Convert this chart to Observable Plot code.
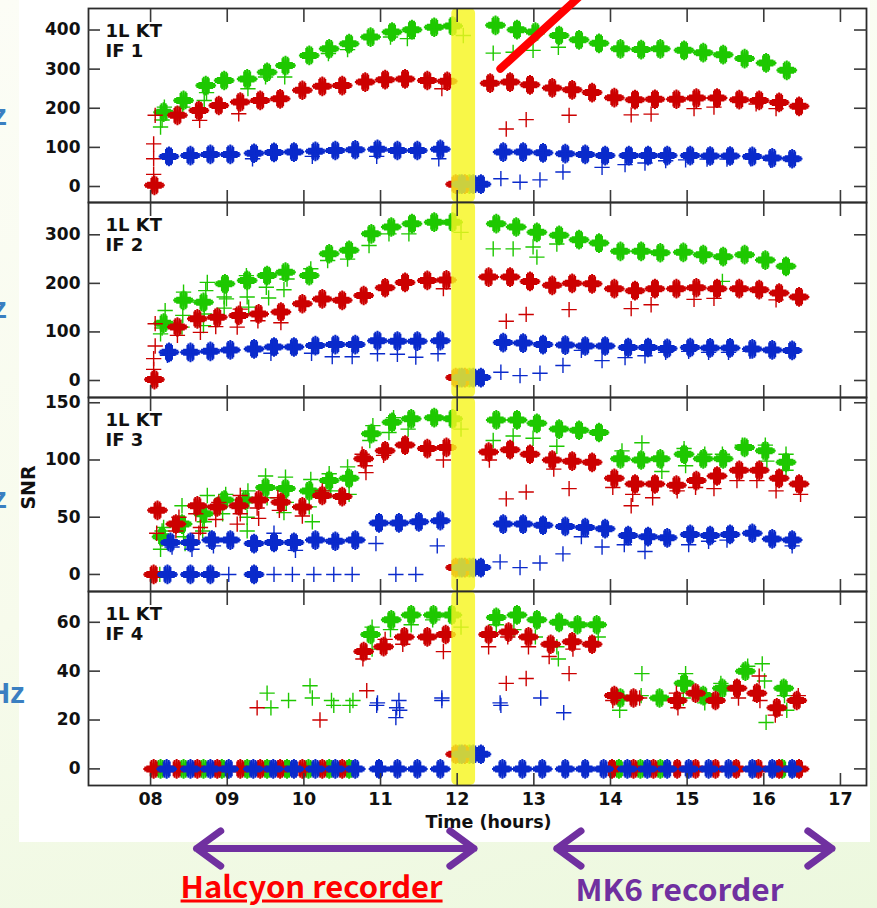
<!DOCTYPE html>
<html><head><meta charset="utf-8">
<script src="https://cdn.jsdelivr.net/npm/d3@7"></script>
<script src="https://cdn.jsdelivr.net/npm/@observablehq/plot@0.6"></script>
<style>
body{margin:0;}
#root{position:relative;width:877px;height:908px;overflow:hidden;background:linear-gradient(165deg,#fcfdf6 0%,#f7fbec 55%,#ecf8de 100%);}
#white{position:absolute;left:19px;top:0;width:851px;height:842px;background:#fff;}
.pan{position:absolute;left:0;}
.side{position:absolute;color:#3a7fc1;font:bold 30px "Liberation Sans",sans-serif;line-height:30px;white-space:nowrap;}
</style></head><body>
<div id="root"><div id="white"></div></div>
<script>
// ---------- shared axis data ----------
const xTicks = [8, 9, 10, 11, 12, 13, 14, 15, 16, 17];
const xDomain = [7.19, 17.34];
const bandRange = [[11.93, 12.24]];
const colGreen = "#1ec800", colRed = "#cc0000", colBlue = "#0a2acb";

// ---------- panel 1 : IF 1 ----------
const p1Ticks = [0, 100, 200, 300, 400];
const p1Domain = [-40.9, 455];
const p1GreenC = [[8.17,190],[8.43,220],[8.72,258],[8.96,271],[9.26,275],[9.52,292],[9.76,309],[10.07,335],[10.33,352],[10.59,365],[10.87,382],[11.15,395],[11.41,401],[11.70,407],[11.94,410],[12.50,412],[12.78,401],[13.02,395],[13.33,386],[13.59,375],[13.85,366],[14.13,352],[14.40,350],[14.65,352],[14.96,348],[15.21,342],[15.47,337],[15.75,327],[16.03,316],[16.30,297],[12.03,6],[12.16,6]];
const p1GreenS = [[8.13,152],[8.15,170],[8.18,203],[8.42,203],[8.70,220],[8.73,240],[9.27,250],[9.50,280],[9.75,280],[10.32,340],[10.57,350],[11.13,382],[11.35,378],[12.08,386],[12.47,341],[12.73,343],[12.99,348],[13.32,356]];
const p1RedC = [[8.05,3],[8.35,182],[8.63,194],[8.89,207],[9.17,216],[9.43,220],[9.69,224],[9.98,246],[10.24,256],[10.50,258],[10.80,267],[11.06,273],[11.32,275],[11.61,271],[11.87,269],[12.43,264],[12.69,267],[12.95,260],[13.24,252],[13.50,247],[13.76,240],[14.05,227],[14.32,222],[14.58,223],[14.86,223],[15.12,226],[15.39,226],[15.68,222],[15.94,220],[16.20,215],[16.46,205],[11.98,6],[12.10,6]];
const p1RedS = [[8.06,182],[8.04,109],[8.04,71],[8.04,31],[8.64,169],[9.15,186],[11.80,250],[12.64,147],[12.90,171],[13.46,182],[14.27,183],[14.53,185],[15.09,199],[15.35,203],[15.90,211],[16.16,199]];
const p1BlueC = [[8.24,77],[8.52,79],[8.78,82],[9.04,82],[9.35,85],[9.61,87],[9.87,88],[10.15,90],[10.41,92],[10.67,94],[10.96,95],[11.22,92],[11.48,92],[11.78,95],[12.60,88],[12.86,88],[13.12,86],[13.41,84],[13.67,82],[13.93,79],[14.24,79],[14.49,79],[14.74,79],[15.04,79],[15.30,78],[15.56,78],[15.85,77],[16.11,73],[16.37,71],[12.06,6],[12.21,6],[12.31,6]];
const p1BlueS = [[9.33,71],[10.11,77],[10.95,77],[11.76,71],[12.57,20],[12.82,11],[13.08,17],[13.38,37],[13.89,49],[14.19,56],[14.45,60],[14.72,66],[14.98,68],[15.26,70],[15.52,70],[15.83,71],[16.09,67]];
const p1Pointer = [[12.563,301],[13.62,490]];

// ---------- panel 2 : IF 2 ----------
const p2Ticks = [0, 100, 200, 300];
const p2Domain = [-35, 366.5];
const p2GreenC = [[8.17,118],[8.43,165],[8.69,161],[8.97,199],[9.26,206],[9.52,216],[9.76,223],[10.07,216],[10.33,261],[10.59,268],[10.88,302],[11.14,316],[11.41,323],[11.70,326],[11.94,326],[12.51,323],[12.77,316],[13.04,305],[13.33,299],[13.59,290],[13.85,283],[14.13,266],[14.40,266],[14.65,263],[14.95,264],[15.21,259],[15.47,255],[15.75,259],[16.02,248],[16.29,235],[12.03,6],[12.16,6]];
const p2GreenS = [[8.13,96],[8.15,108],[8.19,144],[8.42,134],[8.41,110],[8.43,182],[8.72,185],[8.74,202],[8.70,137],[8.69,113],[8.96,172],[8.99,168],[8.96,149],[9.26,172],[9.28,151],[9.25,216],[9.51,192],[9.54,170],[9.74,187],[9.78,209],[10.09,230],[10.31,247],[10.57,250],[10.85,278],[11.11,302],[11.37,302],[12.05,305],[12.47,271],[12.73,271],[12.99,275],[13.04,254],[13.30,281],[15.46,204]];
const p2RedC = [[8.05,2],[8.35,110],[8.61,127],[8.87,130],[9.15,134],[9.41,137],[9.70,141],[9.98,158],[10.24,168],[10.50,165],[10.78,175],[11.06,191],[11.32,202],[11.61,206],[11.86,207],[12.41,213],[12.69,213],[12.95,204],[13.24,196],[13.50,200],[13.76,199],[14.05,189],[14.32,185],[14.58,189],[14.86,189],[15.12,191],[15.39,189],[15.68,189],[15.94,187],[16.20,180],[16.46,172],[11.98,6],[12.10,6]];
const p2RedS = [[8.06,117],[8.06,71],[8.04,45],[8.04,23],[8.35,93],[8.65,99],[8.85,111],[9.13,110],[9.17,147],[9.40,123],[9.70,119],[11.82,189],[12.64,122],[12.90,136],[13.46,146],[14.27,148],[14.53,156],[15.09,167],[15.35,169],[16.16,166]];
const p2BlueC = [[8.24,58],[8.52,58],[8.78,60],[9.04,63],[9.35,65],[9.61,69],[9.87,69],[10.15,72],[10.41,74],[10.67,74],[10.96,82],[11.22,81],[11.48,81],[11.78,82],[12.60,78],[12.86,77],[13.12,74],[13.41,73],[13.67,71],[13.93,71],[14.23,68],[14.49,68],[14.74,66],[15.04,68],[15.30,67],[15.56,67],[15.85,65],[16.11,63],[16.37,62],[12.06,6],[12.21,6],[12.31,6]];
const p2BlueS = [[8.22,52],[9.57,56],[10.10,56],[10.37,49],[10.63,49],[10.96,55],[11.22,54],[11.46,48],[11.75,55],[12.57,17],[12.82,10],[13.08,15],[13.38,31],[13.89,41],[14.19,47],[14.45,51],[13.62,62],[14.72,58],[15.02,60],[15.28,58],[15.54,58],[15.82,60]];

// ---------- panel 3 : IF 3 ----------
const p3Ticks = [0, 50, 100, 150];
const p3Domain = [-14.9, 154.6];
const p3GreenC = [[8.15,33],[8.41,44],[8.69,53],[8.96,65],[9.24,65],[9.50,76],[9.76,75],[10.07,73],[10.33,82],[10.59,84],[10.88,123],[11.15,133],[11.40,136],[11.70,137],[11.94,136],[12.51,135],[12.78,135],[13.04,132],[13.33,127],[13.59,126],[13.85,124],[14.13,101],[14.40,100],[14.65,101],[14.96,105],[15.21,101],[15.47,101],[15.75,111],[16.02,108],[16.29,98],[12.03,6],[12.16,6]];
const p3GreenS = [[8.12,0],[8.15,38],[8.13,22],[8.17,41],[8.41,60],[8.43,33],[8.45,27],[8.74,69],[8.70,46],[8.68,38],[8.98,70],[8.94,53],[9.27,73],[9.26,50],[9.26,38],[9.50,86],[9.52,67],[9.76,85],[9.77,63],[9.74,54],[10.09,83],[10.07,59],[10.11,46],[10.33,88],[10.35,73],[10.57,94],[10.59,70],[10.86,117],[10.90,130],[11.17,137],[11.11,124],[11.36,127],[12.05,127],[12.47,117],[12.73,121],[12.99,119],[13.30,112],[14.15,108],[14.41,115],[14.67,90],[14.98,95],[14.96,110],[15.23,105],[15.46,105],[15.72,113],[16.04,99],[16.29,105],[16.29,91],[16.02,113]];
const p3RedC = [[8.04,0],[8.09,56],[8.33,44],[8.61,60],[8.87,59],[9.15,60],[9.41,65],[9.70,63],[9.98,59],[10.24,69],[10.50,68],[10.78,101],[11.06,108],[11.32,113],[11.61,110],[11.86,111],[12.41,107],[12.69,109],[12.95,105],[13.24,100],[13.50,99],[13.76,98],[14.05,84],[14.32,79],[14.58,79],[14.86,78],[15.12,82],[15.39,86],[15.68,91],[15.94,91],[16.20,84],[16.46,79],[11.98,6],[12.10,6]];
const p3RedS = [[8.08,36],[8.33,38],[8.37,50],[8.59,53],[8.65,41],[8.63,36],[8.85,48],[8.89,63],[9.13,44],[9.17,53],[9.17,69],[9.39,58],[9.41,49],[9.68,56],[9.66,67],[9.98,51],[10.24,73],[10.80,95],[10.81,89],[10.76,105],[11.04,104],[11.82,100],[12.42,100],[12.64,66],[12.90,72],[13.26,92],[13.46,75],[14.03,76],[14.29,70],[14.27,60],[14.55,67],[14.87,73],[15.11,76],[15.35,75],[15.65,82],[15.91,82],[16.16,73],[16.48,70]];
const p3BlueC = [[8.22,0],[8.52,0],[8.78,0],[9.35,0],[8.26,28],[8.52,28],[8.80,30],[9.04,30],[9.35,27],[9.61,28],[9.87,28],[10.15,30],[10.41,29],[10.67,30],[10.98,45],[11.24,45],[11.50,46],[11.78,47],[12.60,44],[12.86,44],[13.12,43],[13.41,42],[13.67,41],[13.93,40],[14.23,34],[14.49,33],[14.74,32],[15.04,35],[15.30,34],[15.56,35],[15.85,36],[16.11,31],[16.37,30],[12.06,6],[12.21,6],[12.31,6]];
const p3BlueS = [[9.02,0],[9.61,0],[9.85,0],[10.13,0],[10.39,0],[10.63,0],[11.20,0],[11.46,0],[8.28,24],[8.54,22],[8.82,25],[9.61,36],[9.89,21],[10.94,27],[11.74,25],[12.56,11],[12.82,6],[13.08,10],[13.38,18],[13.89,24],[14.18,26],[14.45,20],[13.62,33],[15.02,26],[15.28,29],[15.52,30],[16.37,25]];

// ---------- panel 4 : IF 4 ----------
const p4Ticks = [0, 20, 40, 60];
const p4Domain = [-6.8, 72.6];
const p4GreenC = [[8.13,0],[8.43,0],[8.69,0],[8.93,0],[9.26,0],[9.52,0],[9.78,0],[10.06,0],[10.33,0],[10.59,0],[14.11,0],[14.39,0],[14.65,0],[16.24,0],[10.87,55],[11.14,61],[11.40,63],[11.69,63],[11.93,63],[12.51,62],[12.78,63],[13.04,61],[13.33,60],[13.57,59],[13.82,59],[14.13,29],[14.64,29],[14.96,35],[15.21,30],[15.46,33],[15.76,40],[16.26,33],[12.03,6],[12.16,6]];
const p4GreenS = [[9.52,31],[9.57,25],[9.80,28],[10.08,34],[10.11,29],[10.36,28],[10.39,26],[10.60,26],[10.64,28],[10.89,49],[10.89,58],[11.13,57],[11.40,59],[11.68,61],[12.05,58],[12.51,59],[12.74,57],[13.02,54],[13.30,50],[13.32,45],[13.84,54],[14.12,24],[14.41,39],[14.40,30],[14.98,39],[14.95,29],[15.23,27],[15.44,35],[15.79,42],[15.98,43],[16.01,36],[16.03,19],[16.27,30],[16.30,24]];
const p4RedC = [[8.04,0],[8.34,0],[8.61,0],[8.87,0],[9.17,0],[9.43,0],[9.69,0],[9.98,0],[10.24,0],[10.50,0],[14.02,0],[14.30,0],[14.56,0],[14.87,0],[15.11,0],[15.37,0],[15.64,0],[15.93,0],[16.20,0],[16.46,0],[10.78,48],[11.04,50],[11.31,54],[11.61,54],[11.85,55],[12.41,55],[12.67,56],[12.93,54],[13.22,51],[13.50,52],[13.76,51],[14.05,30],[14.30,29],[14.87,28],[15.11,31],[15.37,28],[15.65,33],[15.91,31],[16.17,25],[16.43,28],[11.98,6],[12.10,6]];
const p4RedS = [[9.39,25],[10.21,20],[10.82,32],[10.77,45],[11.06,53],[11.29,51],[11.82,48],[12.41,50],[12.66,54],[12.93,50],[13.20,46],[13.51,49],[12.64,35],[12.90,37],[13.46,39],[14.03,28],[14.38,29],[14.86,31],[14.88,25],[15.67,29],[15.94,38],[15.95,28],[16.15,22],[16.20,25],[16.45,30]];
const p4BlueC = [[8.21,0],[8.52,0],[8.78,0],[9.02,0],[9.34,0],[9.60,0],[9.87,0],[10.15,0],[10.41,0],[10.67,0],[10.98,0],[11.22,0],[11.48,0],[11.78,0],[12.59,0],[12.85,0],[13.11,0],[13.41,0],[13.67,0],[13.91,0],[14.22,0],[14.48,0],[14.74,0],[15.02,0],[15.28,0],[15.54,0],[15.85,0],[16.11,0],[16.37,0],[12.06,6],[12.21,6],[12.31,6]];
const p4BlueS = [[10.95,26],[10.96,27],[11.21,25],[11.20,21],[11.24,28],[11.25,24],[11.80,28],[11.80,29],[12.56,27],[12.57,26],[13.09,29],[13.39,23]];

// ---------- annotations ----------
const recorderSpans = [[8.60, 12.22], [13.30, 16.89]];
const recorderNames = ["Halcyon recorder", "MK6 recorder"];
const recorderCenters = [10.10, 14.90];
const recorderRows = [45.4, 48.4];
const recorderColors = ["#ff0000", "#7030a0"];
const arrowRow = 6;
const sideLabels = ["z", "z", "z", "Hz"];

// ---------- rendering ----------
const clusterOffsets = [[0,0],[-2,-1.5],[2,-1.5],[-2,1.5],[2,1.5],[-3,0],[3,0],[0,-2.5],[0,2.5]];
const FONT = "DejaVu Sans, sans-serif";
const root = document.getElementById("root");

function rows(arr, c) { return arr.map(([t, v]) => ({t, v, c})); }

function panel({top, height, mt, mb, domain, ticks, label, series, bottom, snr = false}) {
  const marks = [];
  for (const [C, S, color] of series) {
    marks.push(Plot.dot(rows(S, color), {x: "t", y: "v", symbol: "plus", r: 5, stroke: "c", strokeWidth: 1.4}));
    for (const [dx, dy] of clusterOffsets)
      marks.push(Plot.dot(rows(C, color), {x: "t", y: "v", symbol: "plus", r: 4.8, stroke: "c", strokeWidth: 2, dx, dy}));
  }
  marks.push(Plot.rect(bandRange, {x1: d => d[0], x2: d => d[1], fill: "#f7f520", fillOpacity: 0.82, rx: 5}));
  marks.push(Plot.frame({stroke: "#2b2b2b", strokeWidth: 1.8}));
  marks.push(Plot.axisY({ticks, anchor: "left", tickSize: -12, tickPadding: 20, stroke: "#3a3a3a", strokeWidth: 1.6, fill: "#111", fontSize: 17, fontWeight: "bold", label: null}));
  marks.push(Plot.axisY({ticks, anchor: "right", tickSize: -13, stroke: "#3a3a3a", strokeWidth: 1.6, fill: "none", label: null}));
  marks.push(Plot.axisX({ticks: xTicks, anchor: "top", tickSize: -13, stroke: "#3a3a3a", strokeWidth: 1.6, fill: "none", label: null}));
  if (bottom) {
    marks.push(Plot.axisX({ticks: xTicks, anchor: "bottom", tickSize: -12, tickPadding: 19, stroke: "#3a3a3a", strokeWidth: 1.6, fill: "#111", fontSize: 17.5, fontWeight: "bold", tickFormat: d => String(d).padStart(2, "0"), label: null}));
    marks.push(Plot.text(["Time (hours)"], {text: d => d, frameAnchor: "bottom", dx: 11, dy: 37, lineAnchor: "middle", fontSize: 17.5, fontWeight: "bold", fill: "#111"}));
  } else {
    marks.push(Plot.axisX({ticks: xTicks, anchor: "bottom", tickSize: -12, stroke: "#3a3a3a", strokeWidth: 1.6, fill: "none", label: null}));
  }
  marks.push(Plot.text([label], {text: d => d, frameAnchor: "top-left", dx: 17, dy: 14, lineAnchor: "top", textAnchor: "start", fontSize: 18, fontWeight: "bold", lineHeight: 1.11, fill: "#111"}));
  if (snr) marks.push(Plot.text(["SNR"], {text: d => d, frameAnchor: "left", dx: -60, dy: -7, rotate: -90, textAnchor: "middle", fontSize: 19, fontWeight: "bold", fill: "#111"}));
  const svg = Plot.plot({
    width: 877, height, marginLeft: 88, marginRight: 11, marginTop: mt, marginBottom: mb,
    x: {domain: xDomain, label: null},
    y: {domain, label: null},
    style: {background: "transparent", overflow: "visible", fontFamily: FONT},
    marks
  });
  svg.classList.add("pan");
  svg.style.top = top + "px";
  root.appendChild(svg);
}

panel({top: 0, height: 202, mt: 8, mb: 0, domain: p1Domain, ticks: p1Ticks, label: "1L KT\nIF 1",
  series: [[p1GreenC, p1GreenS, colGreen], [p1RedC, p1RedS, colRed], [p1BlueC, p1BlueS, colBlue]]});
panel({top: 202, height: 195, mt: 0, mb: 0, domain: p2Domain, ticks: p2Ticks, label: "1L KT\nIF 2",
  series: [[p2GreenC, p2GreenS, colGreen], [p2RedC, p2RedS, colRed], [p2BlueC, p2BlueS, colBlue]]});
panel({top: 397, height: 194, mt: 0, mb: 0, domain: p3Domain, ticks: p3Ticks, label: "1L KT\nIF 3", snr: true,
  series: [[p3GreenC, p3GreenS, colGreen], [p3RedC, p3RedS, colRed], [p3BlueC, p3BlueS, colBlue]]});
panel({top: 591, height: 251, mt: 0, mb: 57, domain: p4Domain, ticks: p4Ticks, label: "1L KT\nIF 4", bottom: true,
  series: [[p4GreenC, p4GreenS, colGreen], [p4RedC, p4RedS, colRed], [p4BlueC, p4BlueS, colBlue]]});

// red pointer line drawn over panel 1 (overlay using the same scales)
{
  const svg = Plot.plot({
    width: 877, height: 202, marginLeft: 88, marginRight: 11, marginTop: 8, marginBottom: 0,
    x: {domain: xDomain, axis: null}, y: {domain: p1Domain, axis: null},
    style: {background: "transparent", overflow: "hidden"},
    marks: [Plot.line(p1Pointer, {x: d => d[0], y: d => d[1], stroke: "#ff0000", strokeWidth: 8})]
  });
  svg.classList.add("pan"); svg.style.top = "0px";
  root.appendChild(svg);
}

// bottom annotation: recorder arrows and names
{
  const arrows = [];
  recorderSpans.forEach(([a, b]) => {
    const m = (a + b) / 2;
    arrows.push({x1: m, x2: a}, {x1: m, x2: b});
  });
  const labels = recorderNames.map((name, i) => ({name, x: recorderCenters[i], y: recorderRows[i], c: recorderColors[i]}));
  const svg = Plot.plot({
    width: 877, height: 66, marginLeft: 88, marginRight: 11, marginTop: 0, marginBottom: 0,
    x: {domain: xDomain, axis: null}, y: {domain: [0, 66], reverse: true, axis: null},
    style: {background: "transparent", overflow: "visible"},
    marks: [
      Plot.arrow(arrows, {x1: "x1", x2: "x2", y1: () => arrowRow, y2: () => arrowRow, stroke: "#7030a0", strokeWidth: 7, headAngle: 72, headLength: 6.4, strokeLinecap: "round", strokeLinejoin: "round"}),
      Plot.text(labels, {x: "x", y: "y", text: "name", fill: "c", fontSize: 30, fontWeight: "bold", fontFamily: "Noto Sans CJK KR, sans-serif", lineAnchor: "middle"})
    ]
  });
  svg.classList.add("pan"); svg.style.top = "842px";
  root.appendChild(svg);
  const widths = {"Halcyon recorder": 262, "MK6 recorder": 208};
  d3.select(svg).selectAll("text").each(function () {
    const t = this.textContent;
    if (widths[t]) {
      this.setAttribute("textLength", widths[t]);
      this.setAttribute("lengthAdjust", "spacingAndGlyphs");
    }
    if (t === "Halcyon recorder") {
      this.style.textDecoration = "underline";
      this.style.textDecorationThickness = "3px";
    }
  });
}

// cropped side labels from the slide (cut by the left edge, as in the source)
const sideTops = [99.6, 292.6, 482.6, 677.6];
const sideRights = [870, 870, 870, 852];
sideLabels.forEach((s, i) => {
  const el = document.createElement("div");
  el.className = "side";
  el.textContent = s;
  el.style.top = sideTops[i] + "px";
  el.style.right = sideRights[i] + "px";
  root.appendChild(el);
});
</script>
</body></html>
